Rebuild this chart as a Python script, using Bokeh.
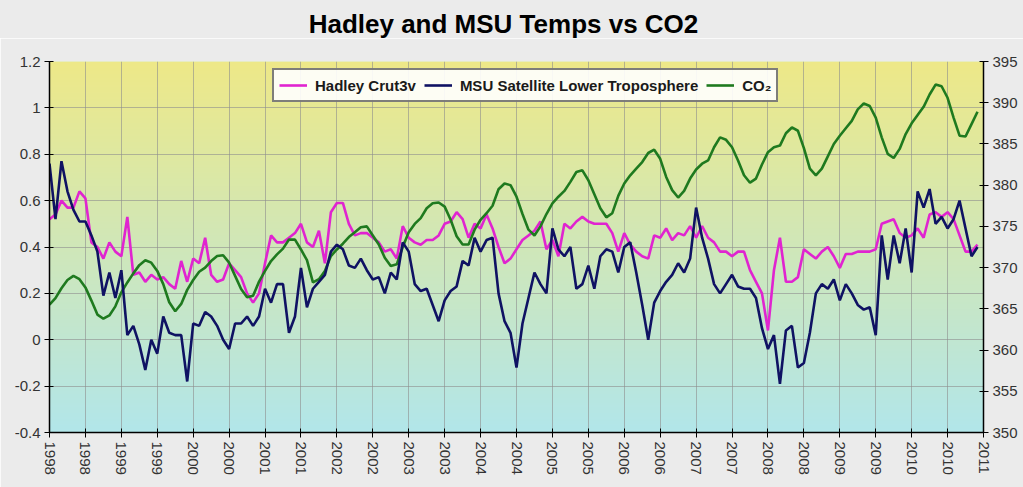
import numpy as np
from bokeh.plotting import figure
from bokeh.layouts import column
from bokeh.models import Range1d, LinearAxis, FixedTicker, Legend, LegendItem, NumeralTickFormatter, Div
from bokeh.embed import file_html
from bokeh.resources import INLINE

# ---------------- data (monthly, Jan 1998 .. Dec 2010) ----------------
months = list(range(156))

hadley = [
    0.52, 0.54, 0.60, 0.57, 0.57, 0.64, 0.61, 0.42, 0.40, 0.35, 0.42, 0.38,
    0.36, 0.53, 0.28, 0.29, 0.25, 0.28, 0.26, 0.27, 0.24, 0.22, 0.34, 0.25,
    0.35, 0.33, 0.44, 0.28, 0.25, 0.26, 0.33, 0.30, 0.27, 0.20, 0.16, 0.20,
    0.33, 0.45, 0.42, 0.42, 0.44, 0.46, 0.50, 0.42, 0.40, 0.47, 0.33, 0.55,
    0.59, 0.59, 0.50, 0.45, 0.46, 0.46, 0.44, 0.42, 0.38, 0.39, 0.35, 0.49,
    0.44, 0.42, 0.41, 0.43, 0.43, 0.45, 0.50, 0.51, 0.55, 0.52, 0.44, 0.50,
    0.48, 0.54, 0.48, 0.40, 0.33, 0.35, 0.39, 0.43, 0.45, 0.47, 0.51, 0.39,
    0.43, 0.36, 0.50, 0.48, 0.51, 0.53, 0.51, 0.50, 0.50, 0.50, 0.46, 0.38,
    0.46, 0.41, 0.38, 0.36, 0.35, 0.45, 0.44, 0.48, 0.43, 0.46, 0.45, 0.49,
    0.44, 0.49, 0.44, 0.42, 0.38, 0.38, 0.36, 0.38, 0.38, 0.30, 0.25, 0.20,
    0.04, 0.30, 0.44, 0.25, 0.25, 0.27, 0.39, 0.37, 0.35, 0.38, 0.40, 0.36,
    0.31, 0.37, 0.37, 0.38, 0.38, 0.38, 0.39, 0.50, 0.51, 0.52, 0.46, 0.44,
    0.45, 0.48, 0.44, 0.54, 0.55, 0.53, 0.55, 0.52, 0.45, 0.38, 0.38, 0.41,
]

msu = [
    0.76, 0.52, 0.77, 0.64, 0.56, 0.51, 0.51, 0.45, 0.38, 0.19, 0.29, 0.18,
    0.30, 0.02, 0.06, -0.02, -0.13, 0.00, -0.06, 0.10, 0.03, 0.02, 0.02, -0.18,
    0.07, 0.06, 0.12, 0.10, 0.06, 0.00, -0.04, 0.07, 0.07, 0.10, 0.06, 0.10,
    0.22, 0.16, 0.24, 0.24, 0.03, 0.10, 0.31, 0.14, 0.22, 0.25, 0.28, 0.38,
    0.41, 0.39, 0.32, 0.31, 0.35, 0.30, 0.26, 0.27, 0.20, 0.29, 0.26, 0.42,
    0.38, 0.24, 0.21, 0.22, 0.15, 0.08, 0.17, 0.21, 0.23, 0.34, 0.32, 0.44,
    0.38, 0.43, 0.44, 0.20, 0.08, 0.03, -0.12, 0.07, 0.18, 0.29, 0.24, 0.20,
    0.48, 0.39, 0.36, 0.40, 0.22, 0.24, 0.32, 0.22, 0.36, 0.39, 0.38, 0.29,
    0.40, 0.42, 0.29, 0.15, 0.00, 0.16, 0.21, 0.25, 0.28, 0.33, 0.29, 0.35,
    0.57, 0.44, 0.35, 0.24, 0.20, 0.24, 0.28, 0.23, 0.22, 0.22, 0.18, 0.05,
    -0.04, 0.02, -0.19, 0.04, 0.06, -0.12, -0.10, 0.03, 0.20, 0.24, 0.22, 0.26,
    0.17, 0.24, 0.20, 0.15, 0.13, 0.14, 0.02, 0.45, 0.26, 0.45, 0.33, 0.48,
    0.29, 0.64, 0.57, 0.65, 0.50, 0.53, 0.48, 0.52, 0.60, 0.48, 0.36, 0.40,
]

co2 = [
    365.5, 366.3, 367.5, 368.5, 369.0, 368.6, 367.6, 366.0, 364.3, 363.8, 364.2, 365.3,
    367.0, 368.2, 369.3, 370.3, 370.9, 370.6, 369.6, 368.0, 365.8, 364.7, 365.6, 367.3,
    368.5, 369.5, 370.0, 370.8, 371.4, 371.5, 370.6, 369.0, 367.4, 366.4, 366.6, 368.3,
    369.6, 370.8, 371.6, 372.3, 373.4, 373.4, 372.2, 370.9, 368.2, 368.6, 369.6, 371.4,
    372.2, 372.9, 373.7, 374.3, 374.9, 375.0, 373.9, 372.8, 371.2, 370.2, 370.4, 372.5,
    374.3, 375.3, 376.0, 377.2, 377.8, 377.9, 377.4, 375.8, 373.8, 372.8, 372.8, 374.6,
    375.8, 376.6, 377.5, 379.5, 380.2, 380.0, 378.6, 376.5, 374.6, 373.9, 375.0, 376.5,
    377.8, 378.6, 379.3, 380.4, 381.6, 381.8, 380.6, 378.9, 377.2, 376.1, 376.6, 378.7,
    380.2, 381.2, 382.0, 382.8, 383.9, 384.3, 383.2, 381.0, 379.4, 378.5, 379.3, 380.8,
    381.9, 382.6, 383.0, 384.6, 385.8, 385.5, 384.6, 383.0, 381.2, 380.3, 380.8, 382.5,
    384.0, 384.6, 384.8, 386.3, 387.0, 386.6, 384.5, 382.0, 381.2, 382.0, 383.5, 385.0,
    386.0, 386.9, 387.8, 389.2, 389.9, 389.6, 388.2, 385.8, 383.8, 383.3, 384.4, 386.2,
    387.5, 388.5, 389.5, 391.0, 392.2, 392.0, 390.6, 388.2, 386.0, 385.9, 387.4, 388.9,
]

x_ticks = list(range(0, 157, 6))
x_tick_labels = [str(1998 + m // 12) for m in x_ticks]
left_ticks = [-0.4, -0.2, 0.0, 0.2, 0.4, 0.6, 0.8, 1.0, 1.2]
right_ticks = list(range(350, 396, 5))

series_names = ["Hadley Crut3v", "MSU Satellite Lower Troposphere", "CO\u2082"]
title_text = "Hadley and MSU Temps vs CO2"

# ---------------- layout ----------------
FONT = "Liberation Sans"
BG = "#EBEBEB"
x0, x1 = 0, 156
y0, y1 = -0.4, 1.2
r0, r1 = 350, 395
W, H = 1023, 487
TITLE_H = 38

title_div = Div(
    text=title_text, width=W, height=TITLE_H, margin=(0, 0, 0, 0),
    styles={"background-color": BG, "font-family": FONT, "font-weight": "bold",
            "font-size": "26px", "color": "#000000", "text-align": "center",
            "line-height": "29px", "padding-top": "10px", "padding-right": "16px",
            "box-sizing": "border-box", "overflow": "visible"},
)

p = figure(width=W, height=H - TITLE_H, output_backend="svg", toolbar_location=None,
           x_range=Range1d(x0, x1), y_range=Range1d(y0, y1),
           min_border_left=49, min_border_right=40, min_border_top=61 - TITLE_H,
           min_border_bottom=55, margin=(0, 0, 0, 0))
p.border_fill_color = BG
p.background_fill_color = "#D6E8BC"
p.outline_line_color = None

# gradient background of plot area (yellow top -> cyan bottom)
n = 256
t = np.linspace(0, 1, n)[:, None]
bottom_c = np.array([178, 230, 234])
top_c = np.array([238, 233, 136])
rgb = (bottom_c + (top_c - bottom_c) * t).astype(np.uint8)
img = np.empty((n, 1), dtype=np.uint32)
view = img.view(dtype=np.uint8).reshape((n, 1, 4))
view[:, 0, 0] = rgb[:, 0]
view[:, 0, 1] = rgb[:, 1]
view[:, 0, 2] = rgb[:, 2]
view[:, 0, 3] = 255
p.image_rgba(image=[img], x=x0, y=y0, dw=x1 - x0, dh=y1 - y0, level="image")

# grids
p.xgrid.ticker = FixedTicker(ticks=x_ticks)
p.ygrid.ticker = FixedTicker(ticks=left_ticks)
for g in (p.xgrid, p.ygrid):
    g.grid_line_color = "#8E8E8E"
    g.grid_line_alpha = 0.6
    g.grid_line_width = 1

# axes
p.extra_y_ranges = {"co2": Range1d(r0, r1)}
right_axis = LinearAxis(y_range_name="co2", ticker=FixedTicker(ticks=right_ticks))
p.add_layout(right_axis, "right")

p.xaxis.ticker = FixedTicker(ticks=x_ticks)
p.xaxis.major_label_overrides = {m: lab for m, lab in zip(x_ticks, x_tick_labels)}
p.xaxis.major_label_orientation = "vertical"
p.yaxis[0].ticker = FixedTicker(ticks=left_ticks)
p.yaxis[0].formatter = NumeralTickFormatter(format="0.[0]")

for ax in p.xaxis + p.yaxis:
    ax.axis_line_color = "#000000"
    ax.axis_line_width = 1.5
    ax.major_tick_line_color = "#000000"
    ax.major_tick_line_width = 1
    ax.major_tick_in = 4
    ax.major_tick_out = 5
    ax.minor_tick_line_color = None
    ax.major_label_text_font = FONT
    ax.major_label_text_font_size = "15px"
    ax.major_label_text_color = "#333333"
    ax.major_label_standoff = 4

# lines
r_had = p.line(months, hadley, line_color="#E024D0", line_width=2.6)
r_co2 = p.line(months, co2, line_color="#1F7A1F", line_width=2.6, y_range_name="co2")
r_msu = p.line(months, msu, line_color="#0F1263", line_width=2.6)

legend = Legend(
    items=[LegendItem(label=series_names[0], renderers=[r_had]),
           LegendItem(label=series_names[1], renderers=[r_msu]),
           LegendItem(label=series_names[2], renderers=[r_co2])],
    location=(223, 330), orientation="horizontal",
    border_line_color="#000000", border_line_width=2,
    background_fill_color="#FFFFFF", background_fill_alpha=0.9,
    label_text_font=FONT, label_text_font_size="15px", label_text_font_style="bold",
    label_text_color="#1A1A1A",
    glyph_width=28, label_standoff=8, spacing=8, padding=5, margin=0,
)
p.add_layout(legend)

layout = column(title_div, p, spacing=0, margin=(0, 0, 0, 0))
open("out.html", "w").write(file_html(layout, INLINE))
